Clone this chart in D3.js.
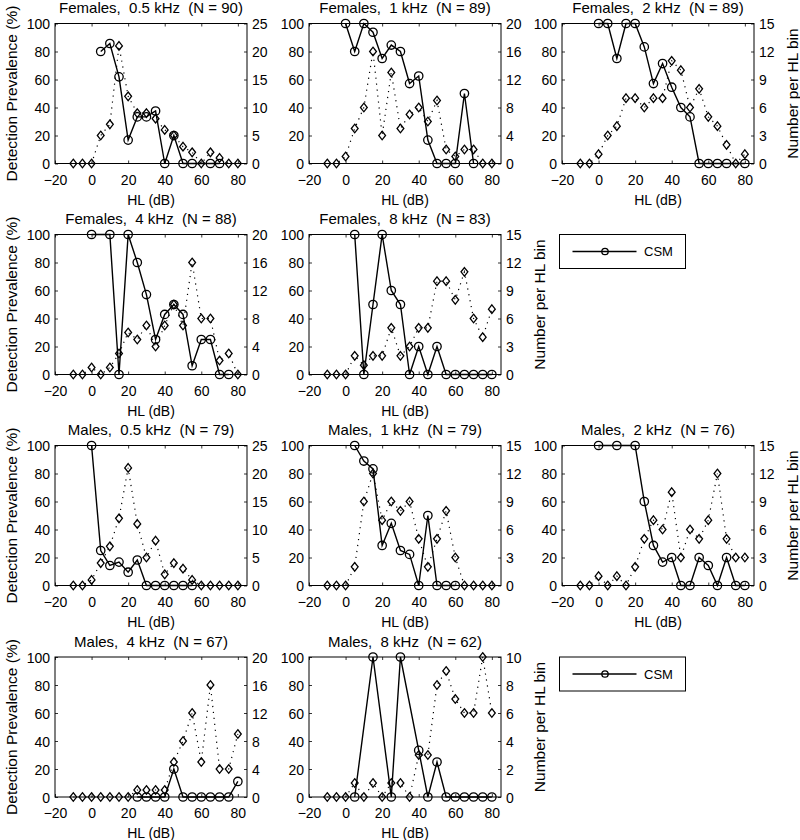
<!DOCTYPE html>
<html><head><meta charset="utf-8">
<script src="https://cdn.jsdelivr.net/npm/d3@7"></script>
<style>
body{margin:0;background:#fff;}
text{font-family:"Liberation Sans",Arial,Helvetica,sans-serif;fill:#000;}
</style></head>
<body><svg id="c" width="800" height="840"></svg>
<script>
const hlBins = [-10,-5,0,5,10,15,20,25,30,35,40,45,50,55,60,65,70,75,80];
const xTicks = [-20,0,20,40,60,80];
const leftTicks = [0,20,40,60,80,100];
const rTicks25 = [0,5,10,15,20,25];
const rTicks20 = [0,4,8,12,16,20];
const rTicks15 = [0,3,6,9,12,15];
const rTicks10 = [0,2,4,6,8,10];

const titles = ["Females,  0.5 kHz  (N = 90)","Females,  1 kHz  (N = 89)","Females,  2 kHz  (N = 89)",
  "Females,  4 kHz  (N = 88)","Females,  8 kHz  (N = 83)",
  "Males,  0.5 kHz  (N = 79)","Males,  1 kHz  (N = 79)","Males,  2 kHz  (N = 76)",
  "Males,  4 kHz  (N = 67)","Males,  8 kHz  (N = 62)"];
const rightTickSets = [rTicks25,rTicks20,rTicks15,rTicks20,rTicks15,rTicks25,rTicks15,rTicks15,rTicks20,rTicks10];

const prevF05 = [null,null,null,80,85.7,61.9,16.7,33.3,33.3,37.5,0,20,0,0,null,0,0,null,null];
const countF05 = [0,0,0,5,7,21,12,9,9,8,6,5,3,2,0,2,1,0,0];
const prevF1 = [null,null,100,80,100,93.75,75,84.6,80,57.1,62.5,16.7,0,0,0,50,0,null,null];
const countF1 = [0,0,1,5,8,16,4,13,5,7,8,6,9,2,1,2,2,0,0];
const prevF2 = [null,null,100,100,75,100,100,83.3,57.1,71.4,54.5,40,33.3,0,0,0,0,null,0];
const countF2 = [0,0,1,3,4,7,7,6,7,7,11,10,6,8,5,4,2,0,1];
const prevF4 = [null,null,100,null,100,0,100,80,57.1,25,42.9,50,42.9,6.25,25,25,0,0,null];
const countF4 = [0,0,1,0,1,3,6,5,7,4,7,10,7,16,8,8,2,3,0];
const prevF8 = [null,null,null,100,0,50,100,60,50,0,20,0,20,0,0,0,0,0,0];
const countF8 = [0,0,0,2,1,2,2,5,2,3,5,5,10,10,8,11,6,4,7];
const prevM05 = [null,null,100,25,14.3,16.7,9.5,18.2,0,0,0,0,0,0,null,null,null,null,null];
const countM05 = [0,0,1,4,7,12,21,11,5,8,2,4,3,1,0,0,0,0,0];
const prevM1 = [null,null,null,100,88.9,83.3,28.6,44.4,25,22.2,0,50,0,0,0,null,null,null,null];
const countM1 = [0,0,0,2,9,12,7,9,8,9,5,2,5,8,3,0,0,0,0];
const prevM2 = [null,null,100,null,100,null,100,60,28.6,16.7,20,0,0,20,14.3,0,20,0,0];
const countM2 = [0,0,1,0,1,0,2,5,7,6,10,3,6,5,7,12,5,3,3];
const prevM4 = [null,null,null,null,null,null,null,0,0,0,0,20,0,0,0,0,0,0,11.1];
const countM4 = [0,0,0,0,0,0,0,1,1,1,1,5,8,12,5,16,4,4,9];
const prevM8 = [null,null,null,0,null,100,null,0,100,null,33.3,0,25,0,0,0,0,0,0];
const countM8 = [0,0,0,1,0,1,0,1,1,0,3,3,8,9,7,6,6,10,6];

const prevs = [prevF05,prevF1,prevF2,prevF4,prevF8,prevM05,prevM1,prevM2,prevM4,prevM8];
const counts = [countF05,countF1,countF2,countF4,countF8,countM05,countM1,countM2,countM4,countM8];
const legendLabel = "CSM";

// layout
const colX = [55, 309, 562];
const rowY = [23.5, 234.5, 445.5, 657];
const W = 192, H = 140;
const grid = [[0,0],[0,1],[0,2],[1,0],[1,1],[2,0],[2,1],[2,2],[3,0],[3,1]];
const lastInRow = [false,false,true,false,true,false,false,true,false,true];

const svg = d3.select("#c");
const FS = 14, FT = 15, FL = 15.5;
const nb = s => s.replace(/ /g, "\u00A0");

prevs.forEach((prev, i) => {
  const [r, c] = grid[i];
  const g = svg.append("g").attr("transform", `translate(${colX[c]},${rowY[r]})`);
  const rt = rightTickSets[i];
  const x = d3.scaleLinear().domain([-20, 85]).range([0, W]);
  const yL = d3.scaleLinear().domain([0, 100]).range([H, 0]);
  const yR = d3.scaleLinear().domain([0, rt[rt.length - 1]]).range([H, 0]);

  const ax = d3.axisBottom(x).tickValues(xTicks).tickSizeInner(-3).tickSizeOuter(0).tickPadding(11);
  const axT = d3.axisTop(x).tickValues(xTicks).tickSizeInner(-3).tickSizeOuter(0).tickFormat("");
  const ayL = d3.axisLeft(yL).tickValues(leftTicks).tickSizeInner(-3).tickSizeOuter(0).tickPadding(5);
  const ayR = d3.axisRight(yR).tickValues(rt).tickSizeInner(-3).tickSizeOuter(0).tickPadding(5);
  const gx = g.append("g").attr("transform", `translate(0,${H})`).call(ax);
  const gxt = g.append("g").call(axT);
  const gyl = g.append("g").call(ayL);
  const gyr = g.append("g").attr("transform", `translate(${W},0)`).call(ayR);
  [gx,gxt,gyl,gyr].forEach(a => {
    a.select(".domain").remove();
    a.selectAll("line").attr("stroke","#000").attr("stroke-width",0.8);
    a.selectAll("text").attr("font-size", FS).attr("font-family",'"Liberation Sans",Arial,sans-serif').attr("fill","#000");
  });
  gyl.selectAll("text").attr("dy","0.36em");
  gyr.selectAll("text").attr("dy","0.36em");
  gx.selectAll("text").attr("dy","0.72em");
  g.append("rect").attr("width",W).attr("height",H).attr("fill","none").attr("stroke","#000").attr("stroke-width",1);

  g.append("text").attr("x", W/2).attr("y", -10.5).attr("text-anchor","middle")
    .attr("font-size", FT).text(nb(titles[i]));
  g.append("text").attr("x", W/2).attr("y", H + 41).attr("text-anchor","middle")
    .attr("font-size", FS).text("HL (dB)");
  if (c === 0) {
    g.append("text").attr("transform", `translate(${-44},${H/2}) rotate(-90)`)
      .attr("text-anchor","middle").attr("dy","0.36em").attr("font-size", FL).text("Detection Prevalence (%)");
  }
  if (lastInRow[i]) {
    g.append("text").attr("transform", `translate(${W+38},${H/2}) rotate(-90)`)
      .attr("text-anchor","middle").attr("dy","0.36em").attr("font-size", FL).text("Number per HL bin");
  }

  const cnt = counts[i].map((v, k) => ({hl: hlBins[k], v}));
  g.append("path").datum(cnt)
    .attr("d", d3.line().x(d => x(d.hl)).y(d => yR(d.v)))
    .attr("fill","none").attr("stroke","#000").attr("stroke-width",1.2)
    .attr("stroke-dasharray","1.2,4.8").attr("stroke-linecap","butt");
  const pv = prev.map((v, k) => ({hl: hlBins[k], v})).filter(d => d.v !== null);
  g.append("path").datum(pv)
    .attr("d", d3.line().x(d => x(d.hl)).y(d => yL(d.v)))
    .attr("fill","none").attr("stroke","#000").attr("stroke-width",1.4);
  g.selectAll(".dm").data(cnt).enter().append("path")
    .attr("transform", d => `translate(${x(d.hl)},${yR(d.v)})`)
    .attr("d", "M0,-4.3L3.4,0L0,4.3L-3.4,0Z")
    .attr("fill","none").attr("stroke","#000").attr("stroke-width",1.3);
  g.selectAll(".ci").data(pv).enter().append("circle")
    .attr("cx", d => x(d.hl)).attr("cy", d => yL(d.v)).attr("r", 4.2)
    .attr("fill","none").attr("stroke","#000").attr("stroke-width",1.3);
});

[1, 3].forEach(r => {
  const lg = svg.append("g").attr("transform", `translate(559.5,${rowY[r]})`);
  lg.append("rect").attr("width",126).attr("height",34).attr("fill","#fff").attr("stroke","#000").attr("stroke-width",1);
  lg.append("line").attr("x1",13).attr("x2",77).attr("y1",17).attr("y2",17).attr("stroke","#000").attr("stroke-width",1.3);
  lg.append("circle").attr("cx",45.5).attr("cy",17).attr("r",3.2).attr("fill","none").attr("stroke","#000").attr("stroke-width",1.3);
  lg.append("text").attr("x",84.5).attr("y",17).attr("dy","0.36em").attr("font-size",13).text(legendLabel);
});
</script></body></html>
